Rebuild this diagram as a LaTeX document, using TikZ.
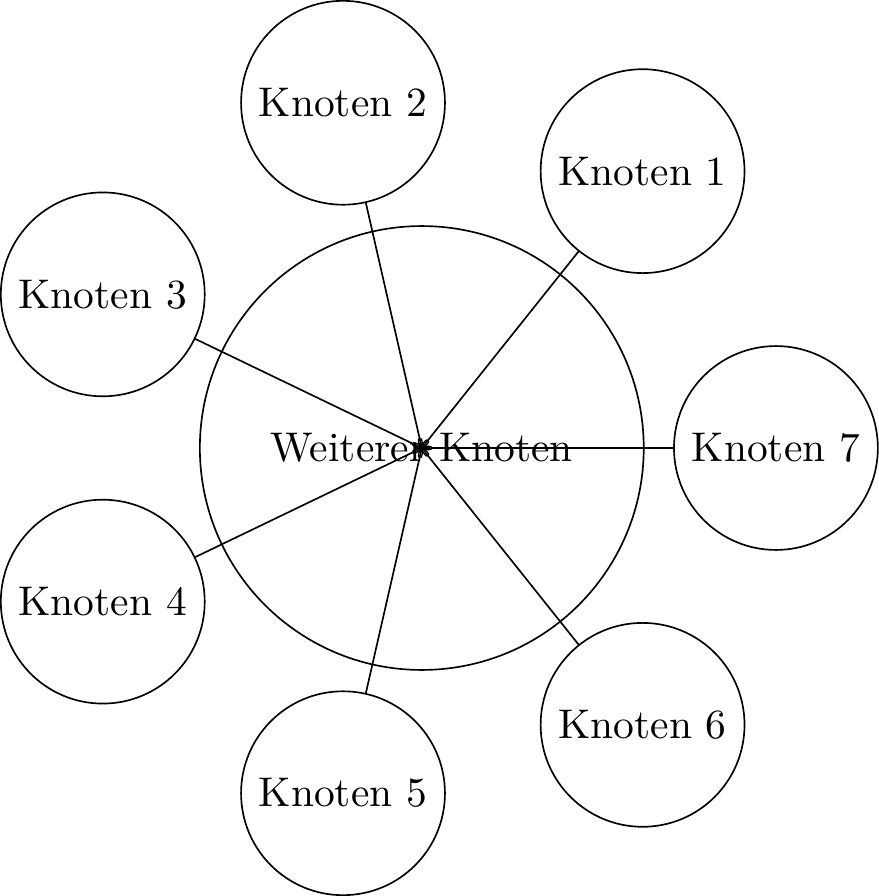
\documentclass[tikz,border=0pt]{standalone}
\begin{document}
\begin{tikzpicture}[knoten/.style={draw,circle}]
\node[draw,circle,minimum size=107pt] (w) at (0,0) {Weiterer Knoten};
\foreach \k in {1,...,7}{
  \node[knoten] (k\k) at ({\k*360/7}:3cm) {Knoten \k};
  \draw[->] (k\k) -- (w.center);
}
\end{tikzpicture}
\end{document}
